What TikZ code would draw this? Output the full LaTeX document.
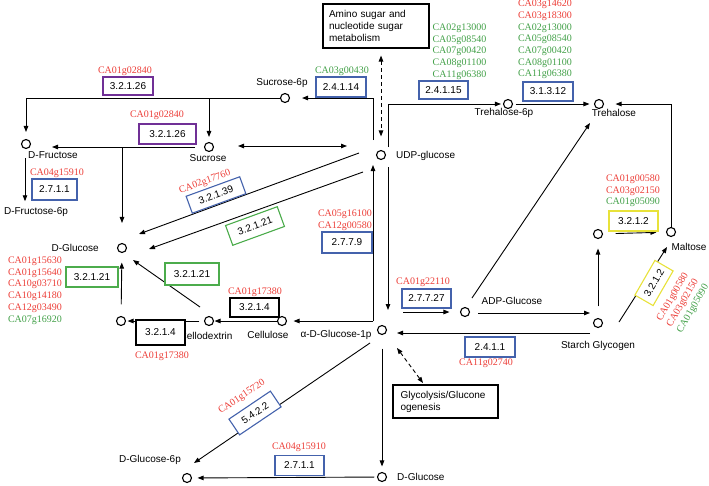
\documentclass[tikz,border=0pt]{standalone}
\usepackage{fontspec}
\setmainfont{Liberation Serif}
\setsansfont{Liberation Sans}
\usetikzlibrary{arrows.meta}

\definecolor{cRed}{RGB}{236,62,56}
\definecolor{cGreen}{RGB}{66,160,72}
\definecolor{cBlue}{RGB}{68,98,172}
\definecolor{cGreenBox}{RGB}{76,172,76}
\definecolor{cPurple}{RGB}{112,48,150}
\definecolor{cYellow}{RGB}{232,226,58}

\begin{document}
\begin{tikzpicture}[x=1pt,y=-1pt,
    met/.style={circle,draw,line width=1.1pt,minimum size=9pt,inner sep=0pt},
    lbl/.style={font=\sffamily\fontsize{10}{12}\selectfont,inner sep=0pt},
    ec/.style={draw,line width=1.1pt,fill=white,font=\sffamily\fontsize{10}{12}\selectfont,
      minimum width=49pt,minimum height=19pt,inner sep=1pt},
    ecblue/.style={ec,draw=cBlue},
    ecgreen/.style={ec,draw=cGreenBox},
    ecpurple/.style={ec,draw=cPurple},
    ecyellow/.style={ec,draw=cYellow},
    ecblack/.style={ec,draw=black},
    gene/.style={font=\fontsize{10}{11.7}\selectfont,inner sep=0pt,align=center,text=cRed},
    rxn/.style={line width=0.9pt,-{Triangle[length=6pt,width=4.5pt]}},
    dbl/.style={line width=0.9pt,{Triangle[length=6pt,width=4.5pt]}-{Triangle[length=6pt,width=4.5pt]}},
    dbldash/.style={dbl,dash pattern=on 4pt off 3pt}]
    \useasboundingbox (0,0) rectangle (709,485);

    % Nodes
    \node[met] (suc6p) at (285,98) {};
    \node[lbl] (suc6pL) at (282,83) {Sucrose-6p};
    \node[met] (fru) at (26,144) {};
    \node[lbl,anchor=west] (fruL) at (28,155) {D-Fructose};
    \node[lbl] (f6pL) at (36,212) {D-Fructose-6p};
    \node[met] (suc) at (209,147) {};
    \node[lbl] (sucL) at (208,158) {Sucrose};
    \node[met] (udp) at (381,155) {};
    \node[lbl,anchor=west] (udpL) at (396,156) {UDP-glucose};
    \node[met] (glc) at (122,248) {};
    \node[lbl,anchor=east] (glcL) at (99,248) {D-Glucose};
    \node[met] (cbi) at (121,321) {};
    \node[met] (cdex) at (209,321) {};
    \node[lbl] (cdexL) at (206,336) {Cellodextrin};
    \node[met] (cel) at (282,321) {};
    \node[lbl] (celL) at (268,335) {Cellulose};
    \node[met] (g1p) at (382,330) {};
    \node[lbl] (g1pL) at (336,335) {α-D-Glucose-1p};
    \node[met] (adp) at (465,312) {};
    \node[lbl] (adpL) at (512,301) {ADP-Glucose};
    \node[met] (t6p) at (508,104) {};
    \node[lbl] (t6pL) at (504,113) {Trehalose-6p};
    \node[met] (tre) at (599,104) {};
    \node[lbl] (treL) at (614,113) {Trehalose};
    \node[met] (starch) at (598,323) {};
    \node[lbl] (starchL) at (598,346) {Starch Glycogen};
    \node[met] (dxt) at (598,234) {};
    \node[met] (mal) at (671,232) {};
    \node[lbl] (malL) at (689,247) {Maltose};
    \node[met] (glcb) at (382,477) {};
    \node[lbl,anchor=west] (glcbL) at (397,477) {D-Glucose};
    \node[met] (g6p) at (187,478) {};
    \node[lbl] (g6pL) at (150,460) {D-Glucose-6p};
    \node[draw,line width=1.1pt,lbl,text width=94pt,align=left,inner xsep=6pt,
      minimum height=44pt] (amino) at (376,26) {Amino sugar and\\nucleotide sugar\\metabolism};
    \node[draw,line width=1.1pt,lbl,text width=90pt,align=left,inner xsep=7.5pt,
      minimum height=33pt] (glyco) at (445.5,401.5) {Glycolysis/Glucone\\ogenesis};

    % Arrows
    \coordinate (udpNW) at (373,140);
    \coordinate (udpNE) at (388,147);
    \coordinate (sucW) at (195,147);
    \coordinate (fruE) at (52,147);
    \coordinate (glcN) at (122,147);
    \coordinate (fruS) at (25,158);
    \coordinate (sucE) at (238,146);
    \coordinate (udpW) at (347,146);
    \coordinate (udpA) at (359,153);
    \coordinate (glcA) at (139,234);
    \coordinate (udpB) at (363,172);
    \coordinate (glcB) at (149,249);
    \coordinate (g1pNW) at (373,321);
    \coordinate (udpS) at (373,165);
    \coordinate (udpSE) at (388,167);
    \coordinate (g1pN) at (388,310);
    \coordinate (cdexNW) at (200,307);
    \coordinate (glcSE) at (133,260);
    \coordinate (adpNE) at (472,298);
    \coordinate (treSW) at (590,123);
    \coordinate (g1pE) at (403,312);
    \coordinate (adpE) at (478,313);
    \coordinate (starchW) at (590,313);
    \coordinate (starchSW) at (590,333);
    \coordinate (g1pSE) at (397,333);
    \coordinate (starchE) at (619,322);
    \coordinate (malSW) at (667,247);
    \coordinate (g1pD) at (397,348);
    \coordinate (glycoN) at (423,383);
    \coordinate (g1pSW) at (370,343);
    \coordinate (g6pNE) at (194,463);

    \draw[rxn,shorten >=12pt] (udpNW) |- (suc6p);
    \draw[rxn,shorten >=7pt] (suc6p) -| (fru);
    \draw[rxn,shorten >=5pt] (suc6p) -| (suc);
    \draw[rxn] (sucW) -- (fruE);
    \draw[rxn,shorten >=20pt] (glcN) -- (glc);
    \draw[rxn,shorten >=6pt] (fruS) -- (fruS |- f6pL.north);
    \draw[dbl] (sucE) -- (udpW);
    \draw[rxn] (udpA) -- (glcA);
    \draw[rxn] (udpB) -- (glcB);
    \draw[rxn] (g1pNW) -- (udpS);
    \draw[rxn] (udpSE) -- (g1pN);
    \draw[rxn,shorten >=6.5pt] (g1pNW) -- (cel);
    \draw[rxn,shorten >=0.5pt] (cel) -- (cdex);
    \draw[rxn,shorten <=4.5pt,shorten >=1.5pt] (cdex) -- (cbi);
    \draw[rxn] (cdexNW) -- (glcSE);
    \draw[rxn,shorten <=11.5pt,shorten >=9.5pt] (cbi) -- (glc);
    \draw[dbldash,shorten <=7pt,shorten >=13.5pt] (amino.south -| udp) -- (udp);
    \draw[rxn,shorten >=2pt] (udpNE) |- (t6p);
    \draw[rxn,shorten <=2.5pt,shorten >=4.5pt] (t6p) -- (tre);
    \draw[rxn] (adpNE) -- (treSW);
    \draw[rxn,shorten >=10.5pt] (g1pE) -- (adp);
    \draw[rxn] (adpE) -- (starchW);
    \draw[rxn] (starchSW) -- (g1pSE);
    \draw[rxn,shorten <=11.5pt,shorten >=9.5pt] (starch) -- (dxt);
    \draw[rxn,shorten <=12.5pt,shorten >=9.5pt] (dxt) -- (mal);
    \draw[rxn,shorten >=11.5pt] (mal) |- (tre);
    \draw[rxn] (starchE) -- (malSW);
    \draw[dbldash] (g1pD) -- (glycoN);
    \draw[rxn,shorten <=13.5pt,shorten >=5.5pt] (g1p) -- (glcb);
    \draw[rxn,shorten <=2.5pt,shorten >=5.5pt] (glcb) -- (g6p);
    \draw[rxn] (g1pSW) -- (g6pNE);

    % EC boxes
    \node[ecpurple,minimum width=50pt,minimum height=18pt] (ec1) at (128,86) {3.2.1.26};
    \node[ecpurple,minimum width=57pt,minimum height=20pt] (ec2) at (167.5,134) {3.2.1.26};
    \node[ecblue,minimum width=45pt,minimum height=21pt] (ec3) at (54.5,189.5) {2.7.1.1};
    \node[ecblue,minimum width=50pt,minimum height=20pt] (ec4) at (341,87) {2.4.1.14};
    \node[ecblue,minimum height=18pt] (ec5) at (443.5,90) {2.4.1.15};
    \node[ecblue,minimum width=50pt] (ec6) at (548,91.5) {3.1.3.12};
    \node[ecblue,rotate=20,minimum width=57pt,minimum height=18pt] (ec7) at (216,195) {3.2.1.39};
    \node[ecgreen,rotate=20,minimum width=55pt,minimum height=21pt] (ec8) at (255,226) {3.2.1.21};
    \node[ecblue,minimum width=50pt,minimum height=21pt] (ec9) at (347,242.5) {2.7.7.9};
    \node[ecgreen,minimum width=52pt,minimum height=20pt] (ec10) at (92,277) {3.2.1.21};
    \node[ecgreen,minimum width=54pt,minimum height=22pt] (ec11) at (192,274) {3.2.1.21};
    \node[ecblack] (ec12) at (254.5,307.5) {3.2.1.4};
    \node[ecblack,minimum height=25pt] (ec13) at (160.5,332.5) {3.2.1.4};
    \node[ecblue] (ec14) at (426.5,298.5) {2.7.7.27};
    \node[ecblue,minimum width=50pt,minimum height=20pt] (ec15) at (490,347) {2.4.1.1};
    \node[ecyellow,minimum height=20pt] (ec16) at (633.5,221) {3.2.1.2};
    \node[ecyellow,rotate=60,minimum width=40pt,minimum height=21pt] (ec17) at (654,283) {3.2.1.2};
    \node[ecblue,rotate=34,minimum width=50pt,minimum height=19pt] (ec18) at (255,413) {5.4.2.2};
    \node[ecblue,minimum height=20pt] (ec19) at (299.5,465.5) {2.7.1.1};

    % Genes
    \node[gene] (gn1) at (125,71) {CA01g02840};
    \node[gene] (gn2) at (157,115) {CA01g02840};
    \node[gene] (gn3) at (57,173) {CA04g15910};
    \node[gene,text=cGreen] (gn4) at (342,71) {CA03g00430};
    \node[gene,text=cGreen] (gn5) at (459.5,51.5) {CA02g13000\\CA05g08540\\CA07g00420\\CA08g01100\\CA11g06380};
    \node[gene] (gn6) at (545,39.5) {CA03g14620\\CA03g18300\\\textcolor{cGreen}{CA02g13000}\\\textcolor{cGreen}{CA05g08540}\\\textcolor{cGreen}{CA07g00420}\\\textcolor{cGreen}{CA08g01100}\\\textcolor{cGreen}{CA11g06380}};
    \node[gene,rotate=20] (gn7) at (205,182) {CA02g17760};
    \node[gene] (gn8) at (345,220.5) {CA05g16100\\CA12g00580};
    \node[gene] (gn9) at (35,290.5) {CA01g15630\\CA01g15640\\CA10g03710\\CA10g14180\\CA12g03490\\\textcolor{cGreen}{CA07g16920}};
    \node[gene] (gn10) at (255,292) {CA01g17380};
    \node[gene] (gn11) at (162,356) {CA01g17380};
    \node[gene] (gn12) at (423,282) {CA01g22110};
    \node[gene] (gn13) at (486,363) {CA11g02740};
    \node[gene] (gn14) at (633,191) {CA01g00580\\CA03g02150\\\textcolor{cGreen}{CA01g05090}};
    \node[gene,rotate=60] (gn15) at (683,303) {CA01g00580\\CA03g02150\\\textcolor{cGreen}{CA01g05090}};
    \node[gene,rotate=34] (gn16) at (242,397) {CA01g15720};
    \node[gene] (gn17) at (299,447) {CA04g15910};
\end{tikzpicture}
\end{document}
